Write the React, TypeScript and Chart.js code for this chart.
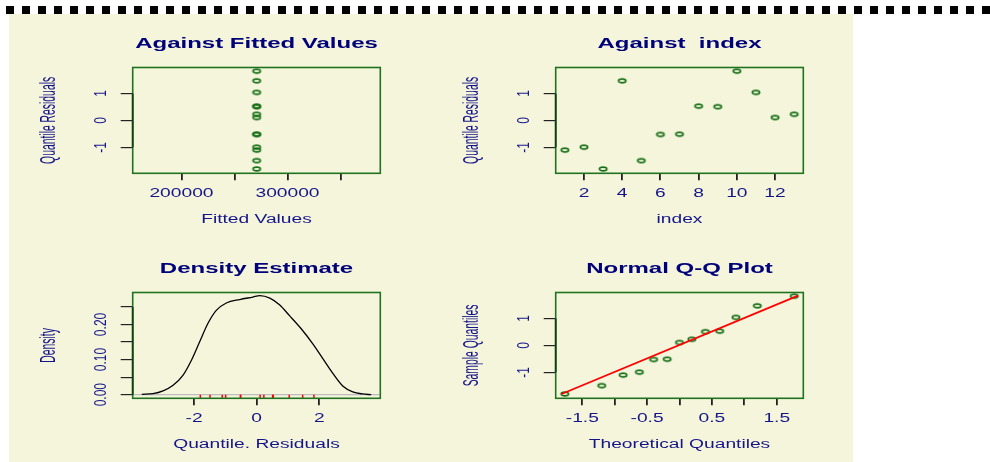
import React, { useEffect, useRef } from "react";
import { Chart, registerables } from "chart.js";

Chart.register(...registerables);

// ---------------- data ----------------
const indexValues = [1, 2, 3, 4, 5, 6, 7, 8, 9, 10, 11, 12, 13];
const residuals = [-1.1, -0.99, -1.8, 1.47, -1.49, -0.52, -0.51, 0.53, 0.51, 1.83, 1.04, 0.11, 0.23];
const fittedValues = [270900, 270900, 270900, 270900, 270900, 270900, 270900, 270900, 270900, 270900, 270900, 270900, 270900];

const densityX = [-3.67, -3.31, -2.99, -2.67, -2.35, -2.08, -1.82, -1.55, -1.29, -0.97, -0.54, -0.12, 0.1, 0.42, 0.73, 1.05, 1.43, 1.8, 2.12, 2.44, 2.75, 3.07, 3.39, 3.66];
const densityY = [0.001, 0.003, 0.011, 0.027, 0.056, 0.099, 0.151, 0.204, 0.24, 0.261, 0.271, 0.278, 0.282, 0.275, 0.256, 0.225, 0.187, 0.144, 0.102, 0.06, 0.025, 0.008, 0.002, 0.0];

const qqTheoretical = [-1.77, -1.2, -0.87, -0.62, -0.4, -0.19, 0.0, 0.19, 0.4, 0.62, 0.87, 1.2, 1.77];
const qqSample = [-1.8, -1.49, -1.1, -0.99, -0.52, -0.51, 0.11, 0.23, 0.51, 0.53, 1.04, 1.47, 1.83];
const qqLineX = [-1.82, 1.83];
const qqLineY = [-1.8, 1.85];

// ticks
const residTicks = [-1, 0, 1];
const residTickLabels = ["-1", "0", "1"];
const fittedTicks = [200000, 250000, 300000, 350000];
const fittedLabelValues = [200000, 300000];
const fittedLabelTexts = ["200000", "300000"];
const indexTicks = [2, 4, 6, 8, 10, 12];
const indexTickLabels = ["2", "4", "6", "8", "10", "12"];
const densXTicks = [-2, 0, 2];
const densXTickLabels = ["-2", "0", "2"];
const densYTicks = [0, 0.05, 0.1, 0.15, 0.2, 0.25];
const densYLabelValues = [0, 0.1, 0.2];
const densYLabelTexts = ["0.00", "0.10", "0.20"];
const qqXTicks = [-1.5, -1, -0.5, 0, 0.5, 1, 1.5];
const qqXLabelValues = [-1.5, -0.5, 0.5, 1.5];
const qqXLabelTexts = ["-1.5", "-0.5", "0.5", "1.5"];

// ---------------- style ----------------
const W = 423;
const H = 223;
const BOX = { left: 123.7, top: 53.5, right: 371.3, bottom: 159.3 };
const SX = 1.6;
const FAMILY = "'Liberation Sans', Arial, Helvetica, sans-serif";
const TITLE_COLOR = "#00007a";
const TEXT_COLOR = "#15158a";
const BOX_COLOR = "#1f731f";
const AXIS_COLOR = "#123c12";
const POINT_COLOR = "#176f17";

type Lbl = { v: number; t: string };
type PanelCfg = {
  title: string;
  xTitle: string;
  yTitle: string;
  xTicks: number[];
  yTicks: number[];
  xLabels: Lbl[];
  yLabels: Lbl[];
  rug?: number[];
  zeroLine?: boolean;
};

function pairs(vals: number[], texts: string[]): Lbl[] {
  return vals.map((v, i) => ({ v, t: texts[i] }));
}

function drawText(
  ctx: CanvasRenderingContext2D,
  text: string,
  x: number,
  y: number,
  font: string,
  color: string,
  baseline: CanvasTextBaseline,
  rotate: boolean,
  sx: number,
  sy: number
) {
  ctx.save();
  ctx.translate(x, y);
  ctx.scale(sx, sy);
  if (rotate) ctx.rotate(-Math.PI / 2);
  ctx.font = font;
  ctx.fillStyle = color;
  ctx.textAlign = "center";
  ctx.textBaseline = baseline;
  ctx.fillText(text, 0, 0);
  ctx.restore();
}

function panelPlugin(cfg: PanelCfg) {
  return {
    id: "rpanel",
    beforeDatasetsDraw(chart: any) {
      const { ctx, chartArea: a } = chart;
      if (cfg.zeroLine) {
        const y = chart.scales.y.getPixelForValue(0);
        ctx.save();
        ctx.strokeStyle = "#bdbdbd";
        ctx.lineWidth = 1.2;
        ctx.beginPath();
        ctx.moveTo(a.left, y);
        ctx.lineTo(a.right, y);
        ctx.stroke();
        ctx.restore();
      }
    },
    afterDatasetsDraw(chart: any) {
      const { ctx, chartArea: a } = chart;
      if (cfg.rug) {
        ctx.save();
        ctx.strokeStyle = "#ff0000";
        ctx.lineWidth = 1.5;
        for (const v of cfg.rug) {
          const x = chart.scales.x.getPixelForValue(v);
          ctx.beginPath();
          ctx.moveTo(x, a.bottom);
          ctx.lineTo(x, a.bottom - 3.6);
          ctx.stroke();
        }
        ctx.restore();
      }
    },
    afterDraw(chart: any) {
      const { ctx, chartArea: a } = chart;
      const xs = chart.scales.x;
      const ys = chart.scales.y;
      ctx.save();
      ctx.strokeStyle = BOX_COLOR;
      ctx.lineWidth = 1.6;
      ctx.strokeRect(a.left, a.top, a.right - a.left, a.bottom - a.top);
      ctx.strokeStyle = AXIS_COLOR;
      ctx.lineWidth = 1.8;
      ctx.beginPath();
      ctx.moveTo(a.left, ys.getPixelForValue(cfg.yTicks[0]));
      ctx.lineTo(a.left, ys.getPixelForValue(cfg.yTicks[cfg.yTicks.length - 1]));
      ctx.stroke();
      ctx.restore();

      const cx = (a.left + a.right) / 2;
      const cy = (a.top + a.bottom) / 2;
      drawText(ctx, cfg.title, cx, a.top - 19.5, `bold 15px ${FAMILY}`, TITLE_COLOR, "alphabetic", false, SX, 1);
      for (const l of cfg.xLabels) {
        drawText(ctx, l.t, xs.getPixelForValue(l.v), a.bottom + 24, `12px ${FAMILY}`, TEXT_COLOR, "alphabetic", false, SX, 1);
      }
      drawText(ctx, cfg.xTitle, cx, a.bottom + 50, `12px ${FAMILY}`, TEXT_COLOR, "alphabetic", false, SX, 1);
      for (const l of cfg.yLabels) {
        drawText(ctx, l.t, a.left - 31, ys.getPixelForValue(l.v), `12px ${FAMILY}`, TEXT_COLOR, "middle", true, 1.4, 1);
      }
      drawText(ctx, cfg.yTitle, a.left - 84, cy, `12.5px ${FAMILY}`, TEXT_COLOR, "middle", true, 1.75, 0.83);
    },
  };
}

function makeEllipse(): HTMLCanvasElement {
  const c = document.createElement("canvas");
  c.width = 12;
  c.height = 8;
  const g = c.getContext("2d")!;
  g.strokeStyle = POINT_COLOR;
  g.lineWidth = 1.6;
  g.beginPath();
  g.ellipse(6, 4, 3.7, 1.9, 0, 0, Math.PI * 2);
  g.stroke();
  return c;
}

function scaleCfg(min: number, max: number, ticks: number[], horizontal: boolean) {
  return {
    type: "linear",
    min,
    max,
    afterBuildTicks: (s: any) => {
      s.ticks = ticks.map((v) => ({ value: v }));
    },
    afterFit: (s: any) => {
      if (horizontal) s.height = H - BOX.bottom;
      else s.width = BOX.left;
    },
    ticks: { display: false },
    border: { display: false },
    grid: {
      drawOnChartArea: false,
      drawTicks: true,
      tickLength: horizontal ? 7 : 12,
      color: "#222222",
      lineWidth: horizontal ? 1.8 : 1.2,
    },
  };
}

function baseOptions(xs: any, ys: any) {
  return {
    animation: false,
    responsive: false,
    devicePixelRatio: 1,
    events: [],
    layout: { padding: { left: 0, top: BOX.top, right: W - BOX.right, bottom: 0 } },
    plugins: { legend: { display: false }, tooltip: { enabled: false }, title: { display: false } },
    scales: { x: xs, y: ys },
  };
}

const Y_MIN = -1.96;
const Y_MAX = 1.965;

export default function App() {
  const r1 = useRef<HTMLCanvasElement>(null);
  const r2 = useRef<HTMLCanvasElement>(null);
  const r3 = useRef<HTMLCanvasElement>(null);
  const r4 = useRef<HTMLCanvasElement>(null);

  useEffect(() => {
    const ell = makeEllipse();
    const charts: Chart[] = [];

    charts.push(
      new Chart(r1.current!, {
        type: "scatter",
        data: {
          datasets: [
            {
              data: fittedValues.map((x, i) => ({ x, y: residuals[i] })),
              pointStyle: ell as any,
              pointRadius: 4,
            },
          ],
        },
        options: baseOptions(scaleCfg(154000, 387500, fittedTicks, true), scaleCfg(Y_MIN, Y_MAX, residTicks, false)) as any,
        plugins: [
          panelPlugin({
            title: "Against Fitted Values",
            xTitle: "Fitted Values",
            yTitle: "Quantile Residuals",
            xTicks: fittedTicks,
            yTicks: residTicks,
            xLabels: pairs(fittedLabelValues, fittedLabelTexts),
            yLabels: pairs(residTicks, residTickLabels),
          }),
        ],
      })
    );

    charts.push(
      new Chart(r2.current!, {
        type: "scatter",
        data: {
          datasets: [
            {
              data: indexValues.map((x, i) => ({ x, y: residuals[i] })),
              pointStyle: ell as any,
              pointRadius: 4,
            },
          ],
        },
        options: baseOptions(scaleCfg(0.52, 13.48, indexTicks, true), scaleCfg(Y_MIN, Y_MAX, residTicks, false)) as any,
        plugins: [
          panelPlugin({
            title: "Against  index",
            xTitle: "index",
            yTitle: "Quantile Residuals",
            xTicks: indexTicks,
            yTicks: residTicks,
            xLabels: pairs(indexTicks, indexTickLabels),
            yLabels: pairs(residTicks, residTickLabels),
          }),
        ],
      })
    );

    charts.push(
      new Chart(r3.current!, {
        type: "scatter",
        data: {
          datasets: [
            {
              type: "line",
              data: densityX.map((x, i) => ({ x, y: densityY[i] })),
              borderColor: "#000000",
              borderWidth: 1.3,
              pointRadius: 0,
              showLine: true,
              cubicInterpolationMode: "monotone",
              fill: false,
            } as any,
          ],
        },
        options: baseOptions(scaleCfg(-3.96, 3.95, densXTicks, true), scaleCfg(-0.0103, 0.291, densYTicks, false)) as any,
        plugins: [
          panelPlugin({
            title: "Density Estimate",
            xTitle: "Quantile. Residuals",
            yTitle: "Density",
            xTicks: densXTicks,
            yTicks: densYTicks,
            xLabels: pairs(densXTicks, densXTickLabels),
            yLabels: pairs(densYLabelValues, densYLabelTexts),
            rug: residuals,
            zeroLine: true,
          }),
        ],
      })
    );

    charts.push(
      new Chart(r4.current!, {
        type: "scatter",
        data: {
          datasets: [
            {
              type: "line",
              data: qqLineX.map((x, i) => ({ x, y: qqLineY[i] })),
              borderColor: "#ff0000",
              borderWidth: 1.8,
              pointRadius: 0,
              showLine: true,
              fill: false,
            } as any,
            {
              data: qqTheoretical.map((x, i) => ({ x, y: qqSample[i] })),
              pointStyle: ell as any,
              pointRadius: 4,
            },
          ],
        },
        options: baseOptions(scaleCfg(-1.91, 1.91, qqXTicks, true), scaleCfg(Y_MIN, Y_MAX, residTicks, false)) as any,
        plugins: [
          panelPlugin({
            title: "Normal Q-Q Plot",
            xTitle: "Theoretical Quantiles",
            yTitle: "Sample Quantiles",
            xTicks: qqXTicks,
            yTicks: residTicks,
            xLabels: pairs(qqXLabelValues, qqXLabelTexts),
            yLabels: pairs(residTicks, residTickLabels),
          }),
        ],
      })
    );

    return () => charts.forEach((c) => c.destroy());
  }, []);

  const cv = (left: number, top: number): React.CSSProperties => ({
    position: "absolute",
    left,
    top,
    width: W,
    height: H,
  });

  return (
    <div style={{ position: "absolute", left: 0, top: 0, width: 990, height: 462, background: "#ffffff", overflow: "hidden" }}>
      <div
        style={{
          position: "absolute",
          left: 6,
          top: 6,
          width: 984,
          height: 8,
          background: "repeating-linear-gradient(to right, #000000 0px, #000000 8px, transparent 8px, transparent 16px)",
        }}
      />
      <div style={{ position: "absolute", left: 9, top: 14, width: 844, height: 448, background: "#f5f5dc" }} />
      <canvas ref={r1} width={W} height={H} style={cv(9, 14)} />
      <canvas ref={r2} width={W} height={H} style={cv(432, 14)} />
      <canvas ref={r3} width={W} height={H} style={cv(9, 239)} />
      <canvas ref={r4} width={W} height={H} style={cv(432, 239)} />
    </div>
  );
}
